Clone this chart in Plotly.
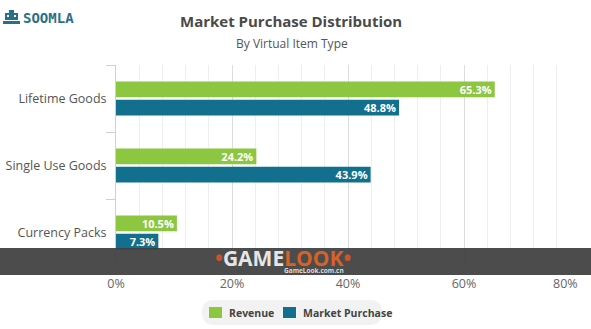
import plotly.graph_objects as go

categories = ["Lifetime Goods", "Single Use Goods", "Currency Packs"]
revenue = [65.3, 24.2, 10.5]
market_purchase = [48.8, 43.9, 7.3]
x_ticks = [0, 20, 40, 60, 80]
x_tick_labels = ["0%", "20%", "40%", "60%", "80%"]
series_names = ["Revenue", "Market Purchase"]

GREEN = "#8dc641"
TEAL = "#136f8e"
FONT = "Open Sans, Noto Sans, sans-serif"

# plot area in page pixels
L, R, T, B = 116, 580, 65, 266


def xp(px):
    return (px - L) / (R - L)


def yp(py):
    return (B - py) / (B - T)


fig = go.Figure()
for name, vals, col in [(series_names[0], revenue, GREEN), (series_names[1], market_purchase, TEAL)]:
    fig.add_trace(go.Bar(
        name=name, y=categories, x=vals, orientation="h",
        marker=dict(color=col, line=dict(width=0)),
        text=[f"{v:.1f}%" for v in vals], textposition="inside",
        insidetextanchor="end",
        textfont=dict(color="white", size=11, family=FONT, weight="bold"),
        hoverinfo="skip", showlegend=False,
    ))

# last tick label is right-aligned to its tick (as in the reference), drawn as an annotation
axis_labels = x_tick_labels[:-1] + [""]

fig.update_layout(
    width=591, height=329,
    margin=dict(l=L, r=591 - R, t=T, b=329 - B, autoexpand=False),
    paper_bgcolor="white", plot_bgcolor="white",
    barmode="group", bargap=0.46, bargroupgap=0.13,
    font=dict(family=FONT, color="#555555", size=12),
    uniformtext=dict(minsize=11, mode="show"),
    showlegend=False,
    xaxis=dict(
        range=[0, 80], tickvals=x_ticks, ticktext=axis_labels,
        showgrid=True, gridcolor="#dcdcdc", gridwidth=1,
        minor=dict(dtick=4, showgrid=True, gridcolor="#eeeeee", gridwidth=1),
        zeroline=False, showline=False, ticks="",
        ticklabelstandoff=8, automargin=False,
        tickfont=dict(size=12.5, color="#666666"),
        fixedrange=True,
    ),
    yaxis=dict(
        autorange="reversed", showgrid=False, zeroline=False,
        showline=True, linecolor="#d0d0d0", linewidth=1,
        ticks="outside", tickson="boundaries", ticklen=9, tickcolor="#d0d0d0",
        ticklabelstandoff=6, automargin=False,
        tickfont=dict(size=12.5, color="#555555"),
        fixedrange=True,
    ),
)
fig.add_annotation(
    text=x_tick_labels[-1], xref="x", yref="paper",
    x=x_ticks[-1], y=yp(283), xanchor="right", yanchor="middle",
    showarrow=False, font=dict(size=12.5, color="#666666", family=FONT),
)

# Title and subtitle
fig.add_annotation(
    text="<b>Market Purchase Distribution</b>", xref="paper", yref="paper",
    x=xp(291), y=yp(21), xanchor="center", yanchor="middle",
    showarrow=False, font=dict(size=15, color="#4a4a4a", family=FONT),
)
fig.add_annotation(
    text="By Virtual Item Type", xref="paper", yref="paper",
    x=xp(292), y=yp(44), xanchor="center", yanchor="middle",
    showarrow=False, font=dict(size=12, color="#555555", family=FONT),
)

# Logo: small robot icon + text
LOGO = "#2a6f89"
for (x0, y0, x1, y1) in [(9, 10, 14, 13), (5, 13, 18, 20), (3, 21, 20, 24)]:
    fig.add_shape(type="rect", xref="paper", yref="paper",
                  x0=xp(x0), x1=xp(x1), y0=yp(y1), y1=yp(y0),
                  fillcolor=LOGO, line=dict(width=0), layer="above")
for (x0, y0, x1, y1) in [(7, 15, 9, 17), (14, 15, 16, 17)]:
    fig.add_shape(type="rect", xref="paper", yref="paper",
                  x0=xp(x0), x1=xp(x1), y0=yp(y1), y1=yp(y0),
                  fillcolor="white", line=dict(width=0), layer="above")
fig.add_annotation(
    text="<b>SOOMLA</b>", xref="paper", yref="paper",
    x=xp(21), y=yp(18), xanchor="left", yanchor="middle",
    showarrow=False, font=dict(size=14, color=LOGO, family="DejaVu Sans Mono"),
)

# Custom legend (rounded light box)
cx, cy, w, h, r = 292, 312.5, 180, 25, 12
hw, hh = w / 2, h / 2
path = (f"M {-hw + r},{-hh} L {hw - r},{-hh} Q {hw},{-hh} {hw},{-hh + r} "
        f"L {hw},{hh - r} Q {hw},{hh} {hw - r},{hh} L {-hw + r},{hh} "
        f"Q {-hw},{hh} {-hw},{hh - r} L {-hw},{-hh + r} Q {-hw},{-hh} {-hw + r},{-hh} Z")
fig.add_shape(type="path", xref="paper", yref="paper",
              xsizemode="pixel", ysizemode="pixel",
              xanchor=xp(cx), yanchor=yp(cy), path=path,
              fillcolor="#f2f2f2", line=dict(width=0), layer="below")
for (sx, name, col, tx) in [(209, series_names[0], GREEN, 227), (283, series_names[1], TEAL, 301)]:
    fig.add_shape(type="rect", xref="paper", yref="paper",
                  x0=xp(sx), x1=xp(sx + 13), y0=yp(318), y1=yp(307),
                  fillcolor=col, line=dict(width=0))
    fig.add_annotation(
        text=f"<b>{name}</b>", xref="paper", yref="paper",
        x=xp(tx), y=yp(312.5), xanchor="left", yanchor="middle",
        showarrow=False, font=dict(size=10.5, color="#444444", family=FONT),
    )

# Watermark band
fig.add_shape(
    type="rect", xref="paper", yref="paper",
    x0=xp(-5), x1=xp(600), y0=yp(275), y1=yp(248),
    fillcolor="rgba(62,62,62,0.93)", line=dict(width=0), layer="above",
)
fig.add_annotation(
    text="<span style='color:#c8562a'>•</span><span style='color:#e6e6e6'>GAME</span><span style='color:#d4622a'>LOOK</span><span style='color:#c8562a'>•</span>",
    xref="paper", yref="paper",
    x=xp(283), y=yp(258), xanchor="center", yanchor="middle",
    showarrow=False, font=dict(size=21, family=FONT, weight="bold"),
)
fig.add_annotation(
    text="GameLook.com.cn", xref="paper", yref="paper",
    x=xp(314), y=yp(270.5), xanchor="center", yanchor="middle",
    showarrow=False, font=dict(size=6.5, color="#dddddd", family=FONT, weight="bold"),
)

fig.write_html("out.html")
